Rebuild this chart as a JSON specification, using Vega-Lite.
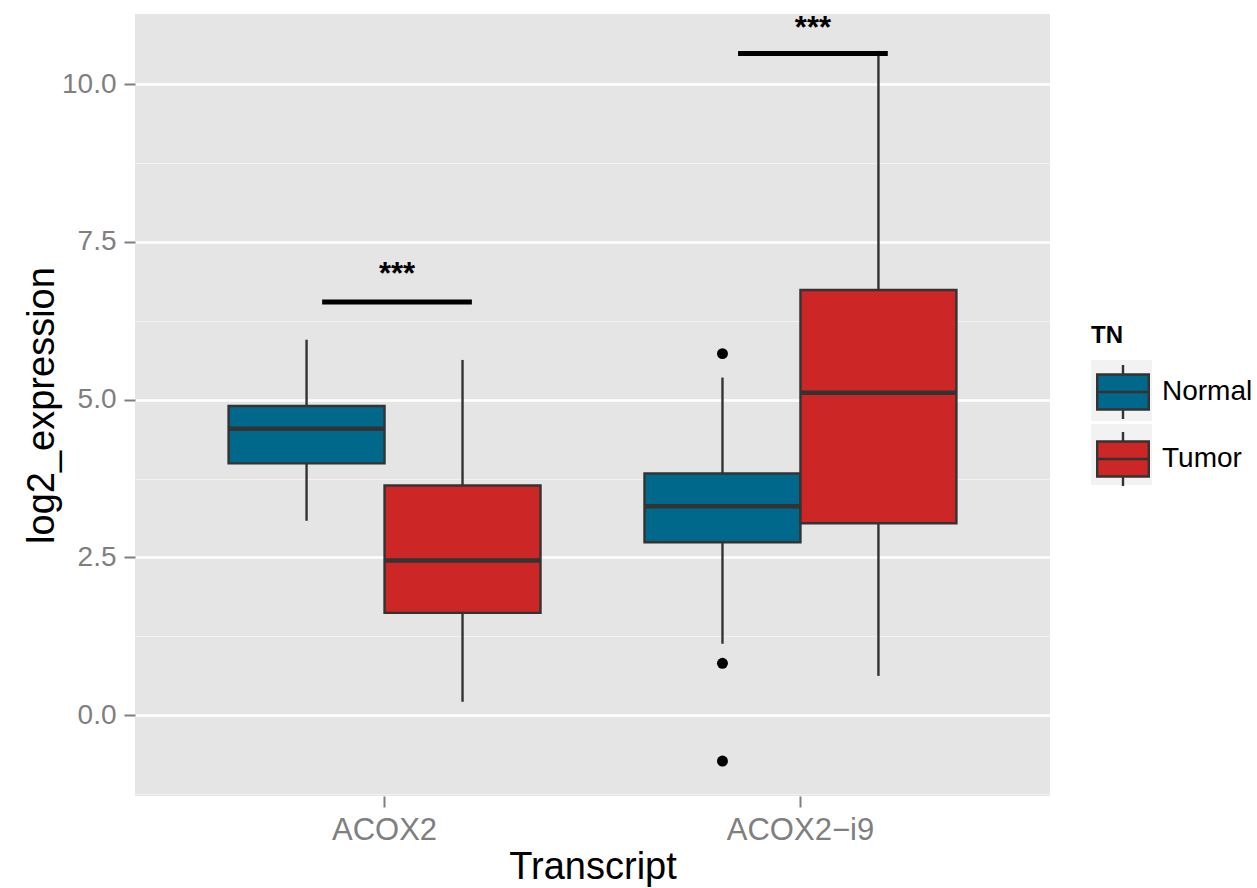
{
  "$schema": "https://vega.github.io/schema/vega-lite/v6.json",
  "width": 915,
  "height": 782,
  "autosize": {"type": "none"},
  "padding": {"left": 135, "top": 14, "right": 207, "bottom": 92},
  "background": "white",
  "config": {
    "font": "Liberation Sans",
    "view": {"fill": "#E5E5E5", "stroke": null},
    "axis": {
      "domain": false,
      "labelColor": "#7F7F7F",
      "labelFontSize": 29,
      "labelFont": "Liberation Sans",
      "tickColor": "#7F7F7F",
      "tickSize": 11,
      "tickWidth": 2,
      "labelPadding": 8,
      "titleColor": "black",
      "titleFontSize": 38,
      "titleFontWeight": "normal",
      "titleFont": "Liberation Sans",
      "gridColor": "white",
      "gridWidth": 2.3
    },
    "legend": {
      "orient": "none",
      "legendX": 956,
      "legendY": 310,
      "titleFontSize": 24,
      "titleFontWeight": "bold",
      "titlePadding": 12,
      "labelFontSize": 28,
      "labelOffset": 7,
      "rowPadding": 3,
      "symbolSize": 3721
    }
  },
  "datasets": {
    "boxes": [
      {"Transcript": "ACOX2", "TN": "Normal", "lower": 3.08, "q1": 3.99, "median": 4.54, "q3": 4.9, "upper": 5.95},
      {"Transcript": "ACOX2", "TN": "Tumor", "lower": 0.21, "q1": 1.62, "median": 2.45, "q3": 3.64, "upper": 5.63},
      {"Transcript": "ACOX2−i9", "TN": "Normal", "lower": 1.13, "q1": 2.74, "median": 3.31, "q3": 3.83, "upper": 5.35},
      {"Transcript": "ACOX2−i9", "TN": "Tumor", "lower": 0.62, "q1": 3.04, "median": 5.11, "q3": 6.74, "upper": 10.53}
    ],
    "outliers": [
      {"Transcript": "ACOX2−i9", "TN": "Normal", "log2_expression": 5.73},
      {"Transcript": "ACOX2−i9", "TN": "Normal", "log2_expression": 0.82},
      {"Transcript": "ACOX2−i9", "TN": "Normal", "log2_expression": -0.73}
    ],
    "signif": [
      {"Transcript": "ACOX2", "bar": 6.55, "labelY": 6.97, "label": "***"},
      {"Transcript": "ACOX2−i9", "bar": 10.49, "labelY": 10.88, "label": "***"}
    ]
  },
  "encoding": {
    "x": {
      "field": "Transcript",
      "type": "nominal",
      "sort": ["ACOX2", "ACOX2−i9"],
      "scale": {"type": "band", "domain": ["ACOX2", "ACOX2−i9"], "paddingInner": 0.25, "paddingOuter": 0.225},
      "axis": {"labelAngle": 0, "bandPosition": 0.5, "titlePadding": 3, "labelFontSize": 31},
      "title": "Transcript"
    }
  },
  "layer": [
    {
      "data": {"name": "boxes"},
      "mark": {"type": "point", "filled": true, "opacity": 0, "size": 1},
      "encoding": {
        "xOffset": {"field": "TN", "type": "nominal", "sort": ["Normal", "Tumor"], "scale": {"domain": ["Normal", "Tumor"], "paddingInner": 0, "paddingOuter": 0}},
        "y": {"field": "median", "type": "quantitative"},
        "color": {
          "field": "TN",
          "type": "nominal",
          "scale": {"domain": ["N", "T"], "range": ["#F2F2F2", "#F2F2F2"]},
          "legend": {
            "title": "TN ",
            "titleColor": "transparent",
            "labelExpr": "''",
            "symbolType": "square",
            "symbolFillColor": "#F2F2F2",
            "symbolStrokeWidth": 0,
            "symbolOpacity": 1
          }
        }
      }
    },
    {
      "data": {"name": "boxes"},
      "mark": {"type": "rule", "color": "#333333", "strokeWidth": 2.4},
      "encoding": {
        "xOffset": {"field": "TN", "type": "nominal", "sort": ["Normal", "Tumor"]},
        "y": {
          "field": "lower",
          "type": "quantitative",
          "scale": {"domain": [-1.284, 11.115], "nice": false, "zero": false},
          "title": "log2_expression",
          "axis": {
            "values": [-1.25, 0, 1.25, 2.5, 3.75, 5, 6.25, 7.5, 8.75, 10],
            "labelExpr": "datum.value % 2.5 === 0 ? format(datum.value, '.1f') : ''",
            "gridColor": {"condition": {"test": "datum.value % 2.5 !== 0", "value": "#F2F2F2"}, "value": "white"},
            "gridWidth": {"condition": {"test": "datum.value % 2.5 !== 0", "value": 1.2}, "value": 2.3},
            "tickOpacity": {"condition": {"test": "datum.value % 2.5 !== 0", "value": 0}, "value": 1},
            "titlePadding": 0,
            "labelFontSize": 28
          }
        },
        "y2": {"field": "q1"}
      }
    },
    {
      "data": {"name": "boxes"},
      "mark": {"type": "rule", "color": "#333333", "strokeWidth": 2.4},
      "encoding": {
        "xOffset": {"field": "TN", "type": "nominal", "sort": ["Normal", "Tumor"]},
        "y": {"field": "q3", "type": "quantitative"},
        "y2": {"field": "upper"}
      }
    },
    {
      "data": {"name": "boxes"},
      "mark": {"type": "bar", "stroke": "#333333", "strokeWidth": 2.4, "opacity": 1},
      "encoding": {
        "xOffset": {"field": "TN", "type": "nominal", "sort": ["Normal", "Tumor"]},
        "y": {"field": "q1", "type": "quantitative"},
        "y2": {"field": "q3"},
        "fill": {
          "field": "TN",
          "type": "nominal",
          "scale": {"domain": ["Normal", "Tumor"], "range": ["#00688B", "#CD2626"]},
          "legend": {
            "title": "TN",
            "titleColor": "black",
            "labelColor": "black",
            "symbolType": "M-0.846,-0.574H0.846V0.574H-0.846Z M-0.846,0H0.846 M0,-0.574V-0.885 M0,0.574V0.885",
            "symbolStrokeColor": "#333333",
            "symbolStrokeWidth": 2.4,
            "symbolOpacity": 1
          }
        }
      }
    },
    {
      "data": {"name": "boxes"},
      "mark": {"type": "bar", "fill": null, "fillOpacity": 0, "stroke": "#333333", "strokeWidth": 4.6},
      "encoding": {
        "xOffset": {"field": "TN", "type": "nominal", "sort": ["Normal", "Tumor"]},
        "y": {"field": "median", "type": "quantitative"},
        "y2": {"field": "median"}
      }
    },
    {
      "data": {"name": "outliers"},
      "mark": {"type": "point", "filled": true, "color": "black", "size": 120, "opacity": 1},
      "encoding": {
        "xOffset": {"field": "TN", "type": "nominal", "sort": ["Normal", "Tumor"]},
        "y": {"field": "log2_expression", "type": "quantitative"}
      }
    },
    {
      "data": {"name": "signif"},
      "mark": {"type": "rule", "color": "black", "strokeWidth": 5},
      "encoding": {
        "x": {"field": "Transcript", "type": "nominal", "bandPosition": 0.3},
        "x2": {"field": "Transcript", "bandPosition": 0.78},
        "y": {"field": "bar", "type": "quantitative"}
      }
    },
    {
      "data": {"name": "signif"},
      "mark": {"type": "text", "color": "black", "fontSize": 31, "fontWeight": "bold", "baseline": "middle", "align": "center"},
      "encoding": {
        "x": {"field": "Transcript", "type": "nominal", "bandPosition": 0.54},
        "y": {"field": "labelY", "type": "quantitative"},
        "text": {"field": "label"}
      }
    }
  ]
}
